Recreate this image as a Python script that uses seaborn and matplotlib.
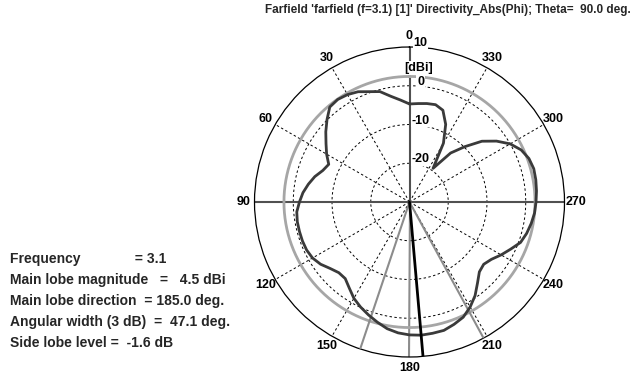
import numpy as np
import pandas as pd
import matplotlib
matplotlib.use("Agg")
import matplotlib.pyplot as plt
import seaborn as sns

# Farfield directivity cut (Theta = 90 deg), sampled every 5 deg in Phi
phi_deg = list(range(0, 360, 5))
directivity_dbi = [
    -4.7, -3.6, -2.3, -0.5, 0.3, 1.4, 2.0, 2.3, 2.0, 0.1, -1.8, -3.7,
    -5.3, -7.0, -6.2, -4.7, -3.5, -2.4, -1.6, -0.8, -0.6, -0.6, -0.6, -0.7,
    -1.1, -2.0, -3.3, -4.2, -4.2, -2.9, -1.3, -0.1, 1.0, 2.1, 3.2, 3.9,
    4.3, 4.5, 4.4, 4.3, 3.6, 2.8, 1.3, -0.5, -2.7, -4.5, -5.0, -4.2,
    -2.7, -1.2, 0.5, 1.3, 1.9, 2.4, 2.65, 2.9, 3.1, 3.2, 2.8, 1.8,
    0.0, -2.6, -5.6, -9.8, -13.5, -19.4, -12.5, -7.9, -4.8, -4.0, -4.2, -4.5,
]

frequency = 3.1
main_lobe_mag = 4.5
main_lobe_dir = 185.0
beam_width = 47.1
side_lobe_level = -1.6
ref_circle_dbi = 2.4

r_min, r_max = -30, 10
grid_levels = [-20, -10, 0]
angle_ticks = list(range(0, 360, 30))
radial_ticks = [10, 0, -10, -20]
radial_tick_labels = ["10", "0", "-10", "-20"]

sns.set_theme(style="white")
plt.rcParams["font.family"] = ["Liberation Sans", "DejaVu Sans"]
plt.rcParams["font.weight"] = "bold"

W, H = 634, 374
fig = plt.figure(figsize=(W / 100, H / 100), dpi=100)
fig.patch.set_facecolor("white")
cx, cy, R = 409.5, 202.0, 155.0
ax = fig.add_axes([(cx - R) / W, (H - cy - R) / H, 2 * R / W, 2 * R / H],
                  projection="polar")
ax.set_theta_zero_location("N")
ax.set_theta_direction(1)
ax.set_ylim(r_min, r_max)
ax.grid(False)
ax.set_xticks([])
ax.set_yticks([])
ax.set_facecolor("white")
ax.spines["polar"].set_color("black")
ax.spines["polar"].set_linewidth(0.9)

full_turn = np.linspace(0, 2 * np.pi, 721)
dash = (0, (2.5, 2.5))

# dashed level circles
for lvl in grid_levels:
    ax.plot(full_turn, np.full_like(full_turn, lvl), color="black",
            lw=0.7, ls=dash, zorder=1)

# dashed spokes every 30 deg (axes drawn solid below)
for a in angle_ticks:
    if a % 90 == 0:
        continue
    t = np.deg2rad(a)
    ax.plot([t, t], [r_min, r_max], color="black", lw=0.7, ls=dash, zorder=1)

# main axes
ax.plot([np.pi / 2] * 2, [r_min, r_max], color="#505050", lw=1.5, zorder=2)
ax.plot([3 * np.pi / 2] * 2, [r_min, r_max], color="#505050", lw=1.5, zorder=2)
ax.plot([0, 0], [r_min, r_max], color="#505050", lw=1.5, zorder=2)
ax.plot([np.pi, np.pi], [r_min, r_max], color="#8c8c8c", lw=1.5, zorder=2)

# -3 dB reference circle
ax.plot(full_turn, np.full_like(full_turn, ref_circle_dbi), color="#a6a6a6",
        lw=2.0, zorder=3)

# beam width limits and main lobe direction
for a in (main_lobe_dir - beam_width / 2, main_lobe_dir + beam_width / 2):
    t = np.deg2rad(a)
    ax.plot([t, t], [r_min, r_max], color="#8c8c8c", lw=1.5, zorder=3)
t = np.deg2rad(main_lobe_dir)
ax.plot([t, t], [r_min, r_max], color="black", lw=2.0, zorder=5)

# directivity pattern
df = pd.DataFrame({
    "theta": np.deg2rad(phi_deg + [phi_deg[0]]),
    "dbi": directivity_dbi + [directivity_dbi[0]],
})
sns.lineplot(data=df, x="theta", y="dbi", sort=False, estimator=None,
             color="#3a3a3a", lw=2.0, ax=ax, zorder=4)
ax.set_xlabel("")
ax.set_ylabel("")
ax.set_ylim(r_min, r_max)
ax.set_xticks([])
ax.set_yticks([])

fs = 9
# angle labels
label_r = r_min + 166.0 / R * (r_max - r_min)
for a in angle_ticks:
    ax.text(np.deg2rad(a), label_r, str(a), ha="center", va="center",
            fontsize=fs, fontweight="bold", color="black", clip_on=False)

# radial labels beside the vertical axis
for val, lab in zip(radial_ticks, radial_tick_labels):
    ax.annotate(lab, xy=(0, val), xytext=(11, 4), textcoords="offset pixels",
                ha="center", va="center", fontsize=fs, fontweight="bold",
                color="black", zorder=6,
                bbox=dict(boxstyle="square,pad=0.05", fc="white", ec="none"))
ax.annotate("[dBi]", xy=(0, 4.6), xytext=(9, 0), textcoords="offset pixels",
            ha="center", va="center", fontsize=fs, fontweight="bold",
            color="black", zorder=6,
            bbox=dict(boxstyle="square,pad=0.05", fc="white", ec="none"))

fig.text(631 / W, 1 - 10 / H,
         "Farfield 'farfield (f=3.1) [1]' Directivity_Abs(Phi); Theta=  90.0 deg.",
         ha="right", va="center", fontsize=8.5, fontweight="bold")

info_lines = [
    f"Frequency              = {frequency}",
    f"Main lobe magnitude   =   {main_lobe_mag} dBi",
    f"Main lobe direction  = {main_lobe_dir:.1f} deg.",
    f"Angular width (3 dB)  =  {beam_width} deg.",
    f"Side lobe level =  {side_lobe_level} dB",
]
for i, line in enumerate(info_lines):
    fig.text(10 / W, 1 - (259 + 21 * i) / H, line, ha="left", va="center",
             fontsize=10, fontweight="bold")

fig.savefig("out.png", dpi=100, facecolor="white")
